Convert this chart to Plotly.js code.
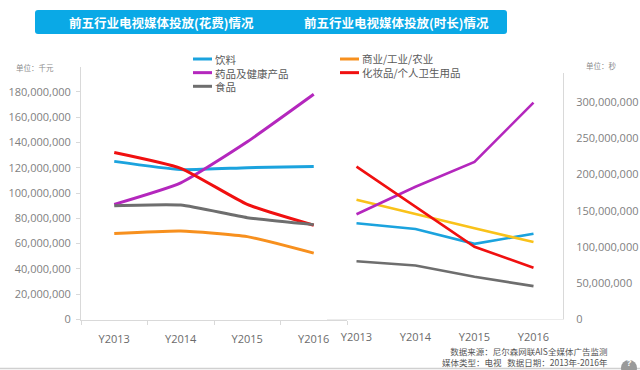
<!DOCTYPE html>
<html>
<head>
<meta charset="utf-8">
<script src="https://cdn.plot.ly/plotly-3.0.1.min.js"></script>
<style>html,body{margin:0;padding:0;background:#fff;}#chart{width:640px;height:370px;}</style>
</head>
<body>
<div id="chart"></div>
<script>
// ---- data ----
const years = ['Y2013', 'Y2014', 'Y2015', 'Y2016'];
const seriesNames = ['饮料', '商业/工业/农业', '药品及健康产品', '化妆品/个人卫生用品', '食品'];

// 花费 (单位：千元)
const costDrinks    = [125000000, 118500000, 120000000, 121000000];
const costBusiness  = [68000000, 70000000, 65500000, 52500000];
const costMedicine  = [91000000, 108000000, 140500000, 178000000];
const costCosmetics = [132000000, 119500000, 91000000, 74500000];
const costFood      = [90000000, 90500000, 80500000, 75000000];

// 时长 (单位：秒)
const timeDrinks    = [132500000, 124500000, 104000000, 118000000];
const timeBusiness  = [165000000, 145000000, 125500000, 106500000];
const timeMedicine  = [145000000, 183000000, 217500000, 299500000];
const timeCosmetics = [211000000, 155000000, 100000000, 71000000];
const timeFood      = [80000000, 74000000, 58500000, 45500000];

const leftTicks  = [0, 20000000, 40000000, 60000000, 80000000, 100000000, 120000000, 140000000, 160000000, 180000000];
const rightTicks = [0, 50000000, 100000000, 150000000, 200000000, 250000000, 300000000];

const titleLeft = '前五行业电视媒体投放(花费)情况';
const titleRight = '前五行业电视媒体投放(时长)情况';
const unitLeft = '单位：千元';
const unitRight = '单位：秒';
const sourceLines = ['数据来源：尼尔森网联AIS全媒体广告监测', '媒体类型：电视&nbsp;&nbsp;&nbsp;数据日期：2013年-2016年'];

// ---- styles ----
const leftColors  = ['#1ba3de', '#f7901e', '#b427bd', '#f01010', '#6e6e6e'];
const rightColors = ['#1ba3de', '#f9c21a', '#b427bd', '#f01010', '#6e6e6e'];
const W = 640, H = 370;
const FONT = 'Open Sans, Noto Sans CJK SC, sans-serif';
const CJK = 'Noto Sans CJK SC, sans-serif';
const px = x => x / W;
const py = y => 1 - y / H;

const leftData = [costDrinks, costBusiness, costMedicine, costCosmetics, costFood];
const rightData = [timeDrinks, timeBusiness, timeMedicine, timeCosmetics, timeFood];

const traces = [];
leftData.forEach((vals, i) => {
  traces.push({
    type: 'scatter', mode: 'lines', x: years, y: vals, name: seriesNames[i],
    xaxis: 'x', yaxis: 'y', showlegend: false,
    line: {color: leftColors[i], width: 3, shape: 'spline', smoothing: 0.5},
    hoverinfo: 'skip'
  });
});
rightData.forEach((vals, i) => {
  traces.push({
    type: 'scatter', mode: 'lines', x: years, y: vals, name: seriesNames[i],
    xaxis: 'x2', yaxis: 'y2', showlegend: false,
    line: {color: rightColors[i], width: 2.6},
    hoverinfo: 'skip'
  });
});

// title bar path (rounded rectangle) in paper coords
function roundRect(x0, y0, x1, y1, r) {
  const P = (x, y) => px(x) + ',' + py(y);
  return 'M' + P(x0 + r, y0) + ' L' + P(x1 - r, y0) + ' Q' + P(x1, y0) + ' ' + P(x1, y0 + r) +
         ' L' + P(x1, y1 - r) + ' Q' + P(x1, y1) + ' ' + P(x1 - r, y1) +
         ' L' + P(x0 + r, y1) + ' Q' + P(x0, y1) + ' ' + P(x0, y1 - r) +
         ' L' + P(x0, y0 + r) + ' Q' + P(x0, y0) + ' ' + P(x0 + r, y0) + ' Z';
}

const shapes = [
  {type: 'path', xref: 'paper', yref: 'paper', path: roundRect(35, 10, 507, 34, 3),
   fillcolor: '#0aa9e6', line: {width: 0}, layer: 'below'},
  {type: 'line', xref: 'paper', yref: 'paper', x0: 0, x1: 1, y0: py(368.5), y1: py(368.5),
   line: {color: '#d0d0d0', width: 1.5}},
  {type: 'circle', xref: 'paper', yref: 'paper', x0: px(621), x1: px(637), y0: py(376), y1: py(360),
   fillcolor: '#9a9a9a', line: {width: 0}}
];

// legend (two columns, each one text block so rows keep the 13.65px spacing)
const LEG_SIZE = 10.5;
const rowH = LEG_SIZE * 1.3;
const legendCols = [
  {x: 193, top: 59 - rowH / 2, items: [0, 2, 4]},
  {x: 340, top: 59 - rowH / 2, items: [1, 3]}
];
const annotations = [];
legendCols.forEach(col => {
  col.items.forEach((idx, r) => {
    const yc = col.top + rowH * (r + 0.5);
    shapes.push({type: 'line', xref: 'paper', yref: 'paper', x0: px(col.x), x1: px(col.x + 19),
      y0: py(yc), y1: py(yc), line: {color: leftColors[idx], width: 3}});
  });
  annotations.push({xref: 'paper', yref: 'paper', x: px(col.x + 19.5), y: py(col.top + rowH * col.items.length / 2),
    xanchor: 'left', yanchor: 'middle', align: 'left', showarrow: false,
    text: col.items.map(i => seriesNames[i]).join('<br>'),
    font: {family: CJK, size: LEG_SIZE, color: '#595959'}});
});

annotations.push(
  {xref: 'paper', yref: 'paper', x: px(67), y: py(22), xanchor: 'left', yanchor: 'middle', showarrow: false,
   text: titleLeft, font: {family: CJK, size: 12.5, color: '#ffffff', weight: 700}},
  {xref: 'paper', yref: 'paper', x: px(302), y: py(22), xanchor: 'left', yanchor: 'middle', showarrow: false,
   text: titleRight, font: {family: CJK, size: 12.5, color: '#ffffff', weight: 700}},
  {xref: 'paper', yref: 'paper', x: px(35), y: py(67.5), xanchor: 'center', yanchor: 'middle', showarrow: false,
   text: unitLeft, font: {family: CJK, size: 7.5, color: '#8c8c8c'}},
  {xref: 'paper', yref: 'paper', x: px(601.5), y: py(66), xanchor: 'center', yanchor: 'middle', showarrow: false,
   text: unitRight, font: {family: CJK, size: 7.5, color: '#8c8c8c'}},
  {xref: 'paper', yref: 'paper', x: px(609.5), y: py(356.7), xanchor: 'right', yanchor: 'middle', align: 'right',
   showarrow: false, text: sourceLines.join('<br>'), font: {family: CJK, size: 8.5, color: '#555555'}},
  {xref: 'paper', yref: 'paper', x: px(629), y: py(362.5), xanchor: 'center', yanchor: 'middle', showarrow: false,
   text: '?', font: {family: FONT, size: 9, color: '#ffffff', weight: 700}}
);

const layout = {
  width: W, height: H,
  margin: {l: 0, r: 0, t: 0, b: 0, pad: 0},
  paper_bgcolor: '#ffffff', plot_bgcolor: 'rgba(0,0,0,0)',
  showlegend: false,
  font: {family: FONT},
  xaxis: {
    domain: [px(81), px(347)], type: 'category', range: [-0.5, 3.5], anchor: 'y',
    showline: true, linecolor: '#d9d9d9', linewidth: 1,
    ticks: 'outside', ticklen: 4, tickcolor: '#d9d9d9', tickson: 'boundaries',
    ticklabelstandoff: 9,
    tickfont: {family: FONT, size: 11, color: '#6b6b6b'},
    showgrid: false, zeroline: false, fixedrange: true
  },
  yaxis: {
    domain: [py(319.5), py(66.5)], range: [0, 200000000], anchor: 'x',
    tickvals: leftTicks, tickformat: ',d',
    showline: true, linecolor: '#d9d9d9', linewidth: 1,
    ticks: 'outside', ticklen: 4, tickcolor: '#d9d9d9',
    ticklabelstandoff: 3,
    tickfont: {family: FONT, size: 11, color: '#7f7f7f'},
    showgrid: false, zeroline: false, fixedrange: true
  },
  xaxis2: {
    domain: [px(327), px(563)], type: 'category', range: [-0.5, 3.5], anchor: 'y2',
    showline: true, linecolor: '#ececec', linewidth: 1,
    ticks: '', tickson: 'boundaries',
    ticklabelstandoff: 8,
    tickfont: {family: FONT, size: 11, color: '#6b6b6b'},
    showgrid: false, zeroline: false, fixedrange: true
  },
  yaxis2: {
    domain: [py(319), py(73.4)], range: [0, 340000000], anchor: 'x2', side: 'right',
    tickvals: rightTicks, tickformat: ',d',
    showline: true, linecolor: '#d9d9d9', linewidth: 1,
    ticks: '', ticklabelstandoff: 10,
    tickfont: {family: FONT, size: 11, color: '#7f7f7f'},
    showgrid: false, zeroline: false, fixedrange: true
  },
  shapes: shapes,
  annotations: annotations
};

Plotly.newPlot('chart', traces, layout, {displayModeBar: false, staticPlot: true});
</script>
</body>
</html>
